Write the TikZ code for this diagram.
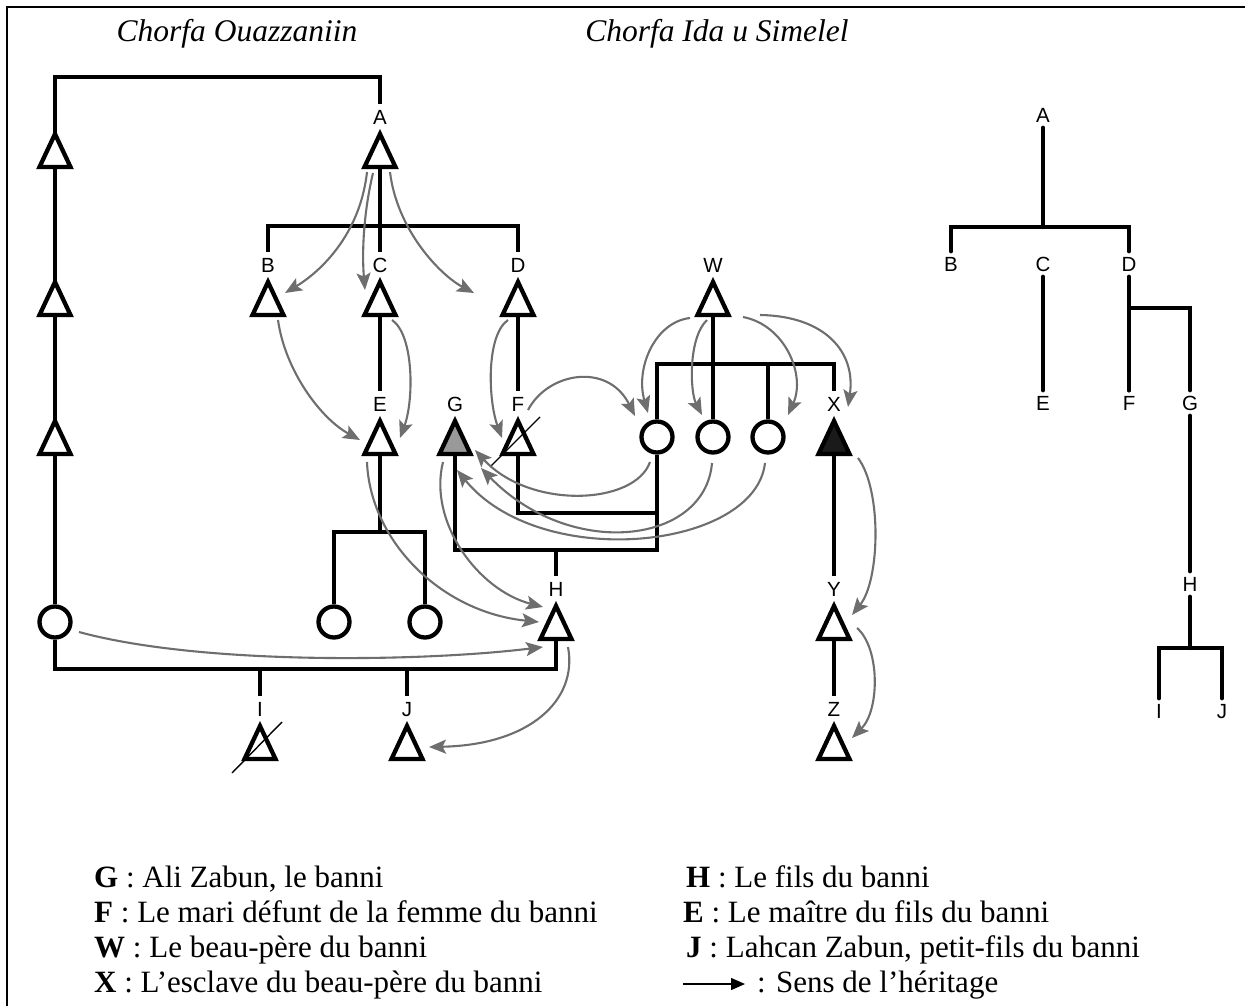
\documentclass[tikz,border=0pt]{standalone}
\usepackage{fontspec}
\setmainfont{Liberation Serif}
\newfontfamily\labfont{Liberation Sans}
\usetikzlibrary{arrows.meta}
\pgfdeclarelayer{bg}
\pgfsetlayers{bg,main}
\definecolor{hercol}{HTML}{6E6E6E}
\definecolor{gfill}{HTML}{999999}
\definecolor{xfill}{HTML}{1A1A1A}
\newcommand\mytri[2][white]{\draw[trist,fill=#1] ([shift={(0,-16)}]#2.center) -- ([shift={(15.5,17)}]#2.center) -- ([shift={(-15.5,17)}]#2.center) -- cycle;}
\begin{document}
\begin{tikzpicture}[x=1pt,y=-1pt,
  kin/.style={line width=4.6pt},
  rkin/.style={line width=4.6pt,line cap=round},
  trist/.style={line width=4.3pt,line join=miter},
  pers/.style={circle,minimum size=36pt,inner sep=0pt,draw=none},
  circ/.style={circle,draw,line width=4.3pt,fill=white,minimum size=31pt,inner sep=0pt},
  lab/.style={font=\labfont\fontsize{20.5}{20.5}\selectfont,inner sep=0pt,outer sep=5.5pt,text height=14.7pt,text depth=0pt},
  her/.style={draw=hercol,line width=2.1pt,-{Stealth[length=17pt,width=14pt,inset=3.5pt]}},
  slash/.style={line width=1.4pt},
  ttl/.style={font=\fontsize{31.5}{35}\selectfont\itshape,inner sep=0pt,anchor=base},
  leg/.style={font=\fontsize{31}{35}\selectfont,inner sep=0pt,anchor=base west},
  legarrow/.style={line width=1.4pt,-{Triangle[length=14pt,width=12pt]}}
]
\useasboundingbox (0,0) rectangle (1245,1006);
\draw[line width=2.5pt] (7,1006) -- (7,7) -- (1245,7);

% titles
\node[ttl] (t1) at (237,42) {Chorfa Ouazzaniin};
\node[ttl] (t2) at (717,42) {Chorfa Ida u Simelel};

% persons (triangles)
\node[pers] (L1) at (55,150) {};
\node[pers] (L2) at (55,298) {};
\node[pers] (L3) at (55,437) {};
\node[pers] (A) at (380,150) {};
\node[pers] (B) at (268,298) {};
\node[pers] (C) at (380,298) {};
\node[pers] (D) at (518,298) {};
\node[pers] (W) at (713,298) {};
\node[pers] (E) at (380,437) {};
\node[pers] (G) at (455,437) {};
\node[pers] (F) at (518,437) {};
\node[pers] (X) at (834,437) {};
\node[pers] (H) at (556,622) {};
\node[pers] (Y) at (834,622) {};
\node[pers] (I) at (260,742) {};
\node[pers] (J) at (407,742) {};
\node[pers] (Z) at (834,742) {};
\foreach \n in {L1,L2,L3,A,B,C,D,W,E,F,H,Y,I,J,Z} {\mytri{\n}}
\mytri[gfill]{G}
\mytri[xfill]{X}
\draw[slash] ([shift={(22,-20)}]F.center) -- ([shift={(-28,30)}]F.center);
\draw[slash] ([shift={(22,-20)}]I.center) -- ([shift={(-28,31)}]I.center);

% circles (women)
\node[circ] (LC) at (55,622) {};
\node[circ] (E1) at (334,622) {};
\node[circ] (E2) at (425,622) {};
\node[circ] (c1) at (657,437) {};
\node[circ] (c2) at (713,437) {};
\node[circ] (c3) at (768,437) {};

% labels left
\node[lab] (lA) at (380,117) {A};
\node[lab] (lB) at (268,265) {B};
\node[lab] (lC) at (380,265) {C};
\node[lab] (lD) at (518,265) {D};
\node[lab] (lW) at (713,265) {W};
\node[lab] (lE) at (380,404) {E};
\node[lab] (lG) at (455,404) {G};
\node[lab] (lF) at (518,404) {F};
\node[lab] (lX) at (834,404) {X};
\node[lab] (lH) at (556,589) {H};
\node[lab] (lY) at (834,589) {Y};
\node[lab] (lI) at (260,709) {I};
\node[lab] (lJ) at (407,709) {J};
\node[lab] (lZ) at (834,709) {Z};

% labels right tree
\node[lab] (rA) at (1043,115) {A};
\node[lab] (rB) at (951,264) {B};
\node[lab] (rC) at (1043,264) {C};
\node[lab] (rD) at (1129,264) {D};
\node[lab] (rE) at (1043,403) {E};
\node[lab] (rF) at (1129,403) {F};
\node[lab] (rG) at (1190,403) {G};
\node[lab] (rH) at (1190,584) {H};
\node[lab] (rI) at (1159,711) {I};
\node[lab] (rJ) at (1222,711) {J};

\begin{pgfonlayer}{bg}
\draw[kin] (lA.north) -- ++(0,-27) -| (LC);
\draw[kin] (LC) -- ++(0,47) -| (H);
\draw[kin] (A) -- (lC.north);
\draw[kin] (lB.north) -- ++(0,-26) -| (lD.north);
\draw[kin] (C) -- (lE.north);
\draw[kin] (D) -- (lF.north);
\draw[kin] (E) -- ++(0,95);
\draw[kin] (E1) -- ++(0,-90) -| (E2);
\draw[kin] (F) -- ++(0,76) -| (c1);
\draw[kin] (G) -- ++(0,113) -| (c1);
\draw[kin] (lH.north) -- ++(0,-26);
\draw[kin] (W) -- (c2);
\draw[kin] (c1) -- ++(0,-73) -| (lX.north);
\draw[kin] (c3) -- ++(0,-73);
\draw[kin] (X) -- (lY.north);
\draw[kin] (Y) -- (lZ.north);
\draw[kin] (lI.north) -- ++(0,-27);
\draw[kin] (lJ.north) -- ++(0,-27);
% right tree
\draw[rkin] (rA.south) -- ++(0,99);
\draw[rkin] (rB.north) -- ++(0,-24) -| (rD.north);
\draw[rkin] (rC.south) -- (rE.north);
\draw[rkin] (rD.south) -- (rF.north);
\draw[rkin] (rG.north) -- ++(0,-82) -| (rF.north);
\draw[rkin] (rG.south) -- (rH.north);
\draw[rkin] (rH.south) -- ++(0,51);
\draw[rkin] (rI.north) -- ++(0,-50) -| (rJ.north);
\end{pgfonlayer}

% heritage arrows
\draw[her] ([shift={(-13,22)}]A.center) .. controls (360,235) and (320,272) .. ([shift={(17,-5)}]B.center);
\draw[her] ([shift={(-7,23)}]A.center) .. controls (363,215) and (362,255) .. ([shift={(-15,-8)}]C.center);
\draw[her] ([shift={(10,22)}]A.center) .. controls (397,230) and (440,275) .. ([shift={(-44,-5)}]D.center);
\draw[her] ([shift={(10,22)}]B.center) .. controls (285,370) and (320,418) .. ([shift={(-20,3)}]E.center);
\draw[her] ([shift={(12,22)}]C.center) .. controls (414,335) and (414,400) .. ([shift={(20,1)}]E.center);
\draw[her] ([shift={(-10,22)}]D.center) .. controls (486,335) and (488,400) .. ([shift={(-16,1)}]F.center);
\draw[her] ([shift={(10,-27)}]F.center) .. controls (548,372) and (608,362) .. ([shift={(-22,-21)}]c1.center);
\draw[her] ([shift={(-23,20)}]W.center) .. controls (655,322) and (635,368) .. ([shift={(-9,-24)}]c1.center);
\draw[her] ([shift={(-6,22)}]W.center) .. controls (688,338) and (690,392) .. ([shift={(-11,-22)}]c2.center);
\draw[her] ([shift={(30,19)}]W.center) .. controls (785,325) and (806,375) .. ([shift={(20,-22)}]c3.center);
\draw[her] ([shift={(47,17)}]W.center) .. controls (825,316) and (856,352) .. ([shift={(14,-30)}]X.center);
\draw[her] ([shift={(-7,25)}]c1.center) .. controls (635,505) and (530,510) .. ([shift={(20,13)}]G.center);
\draw[her] ([shift={(-1,26)}]c2.center) .. controls (705,545) and (570,560) .. ([shift={(26,31)}]G.center);
\draw[her] ([shift={(-3,26)}]c3.center) .. controls (755,550) and (540,572) .. ([shift={(2,33)}]G.center);
\draw[her] ([shift={(-12,25)}]G.center) .. controls (428,522) and (478,590) .. ([shift={(-13,-15)}]H.center);
\draw[her] ([shift={(-13,25)}]E.center) .. controls (370,540) and (440,612) .. ([shift={(-17,0)}]H.center);
\draw[her] ([shift={(24,10)}]LC.center) .. controls (200,665) and (420,662) .. ([shift={(-13,25)}]H.center);
\draw[her] ([shift={(12,25)}]H.center) .. controls (578,700) and (530,745) .. ([shift={(22,5)}]J.center);
\draw[her] ([shift={(24,21)}]X.center) .. controls (882,490) and (880,580) .. ([shift={(18,-7)}]Y.center);
\draw[her] ([shift={(23,6)}]Y.center) .. controls (880,648) and (880,710) .. ([shift={(18,-4)}]Z.center);

% legend
\node[leg] (g1) at (94,887) {\textbf{G} : Ali Zabun, le banni};
\node[leg] (g2) at (94,922) {\textbf{F} : Le mari défunt de la femme du banni};
\node[leg] (g3) at (94,957) {\textbf{W} : Le beau-père du banni};
\node[leg] (g4) at (94,992) {\textbf{X} : L’esclave du beau-père du banni};
\node[leg] (g5) at (686,887) {\textbf{H} : Le fils du banni};
\node[leg] (g6) at (683,922) {\textbf{E} : Le maître du fils du banni};
\node[leg] (g7) at (686,957) {\textbf{J} : Lahcan Zabun, petit-fils du banni};
\coordinate (arS) at (683,984);
\coordinate (arE) at (745,984);
\draw[legarrow] (arS) -- (arE);
\node[leg] (g8) at (757,992) {: Sens de l’héritage};
\end{tikzpicture}
\end{document}
